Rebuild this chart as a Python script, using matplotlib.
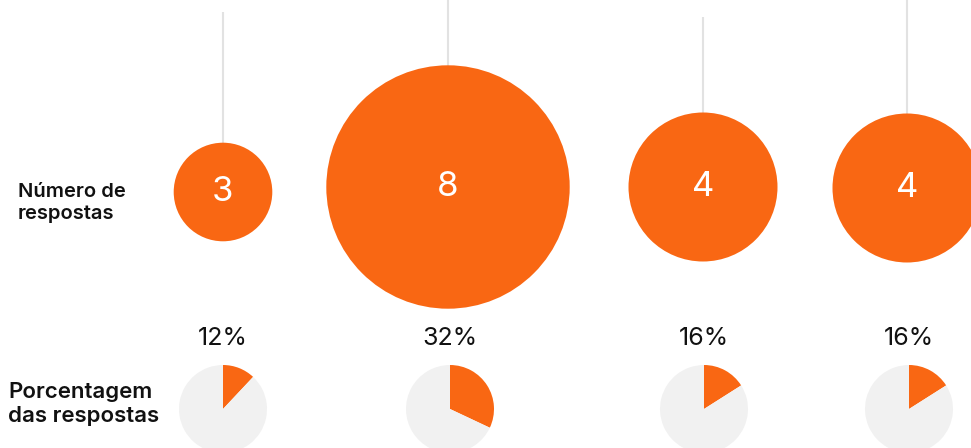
import matplotlib.pyplot as plt
import numpy as np

# dados
respostas = [3, 8, 4, 4]
porcentagens = [12, 32, 16, 16]
rotulo_circulos = "Número de\nrespostas"
rotulo_pizzas = "Porcentagem\ndas respostas"

laranja = "#F96713"
cinza_pizza = "#F1F1F1"
cinza_linha = "#E2E2E2"

plt.rcParams['font.family'] = ['Inter', 'DejaVu Sans']

W, H = 971, 448
fig = plt.figure(figsize=(W / 100, H / 100), dpi=100)
ax = fig.add_axes([0, 0, 1, 1])

# layout (pixels, y medido do topo)
col_x = [223, 448, 703, 907]
circ_y = [192, 187, 187, 188]
linha_topo = [12, -5, 17, -5]
pizza_x = [223, 450, 704, 909]
pizza_y = 409
pizza_r = 44
pct_y = 338


def raio(v):
    # escala de raio por trechos
    return np.interp(v, [3, 4, 8], [49.3, 74.5, 121.7])


for i, v in enumerate(respostas):
    x = col_x[i]
    yc = H - circ_y[i]
    ax.plot([x, x], [H - linha_topo[i], yc], color=cinza_linha, lw=1.5, zorder=1,
            solid_capstyle='butt')
    ax.add_patch(plt.Circle((x, yc), raio(v), color=laranja, zorder=2, lw=0))
    ax.text(x, yc, str(v), color="white", fontsize=25, fontweight='normal',
            ha='center', va='center', zorder=3)

for i, p in enumerate(porcentagens):
    x = pizza_x[i]
    ax.pie([p, 100 - p], colors=[laranja, cinza_pizza], startangle=90,
           counterclock=False, radius=pizza_r, center=(x, H - pizza_y),
           wedgeprops=dict(linewidth=0))
    ax.text(x, H - pct_y, f"{p}%", color="#111111", fontsize=18,
            ha='center', va='center')

ax.text(18, H - 203, rotulo_circulos, fontsize=14.5, fontweight='semibold',
        color="#111111", ha='left', va='center', linespacing=1.35)
ax.text(8, H - 404, rotulo_pizzas, fontsize=16, fontweight='semibold',
        color="#111111", ha='left', va='center', linespacing=1.25)

ax.set_xlim(0, W)
ax.set_ylim(0, H)
ax.set_aspect('equal')
ax.axis('off')

fig.savefig("out.png", dpi=100)
